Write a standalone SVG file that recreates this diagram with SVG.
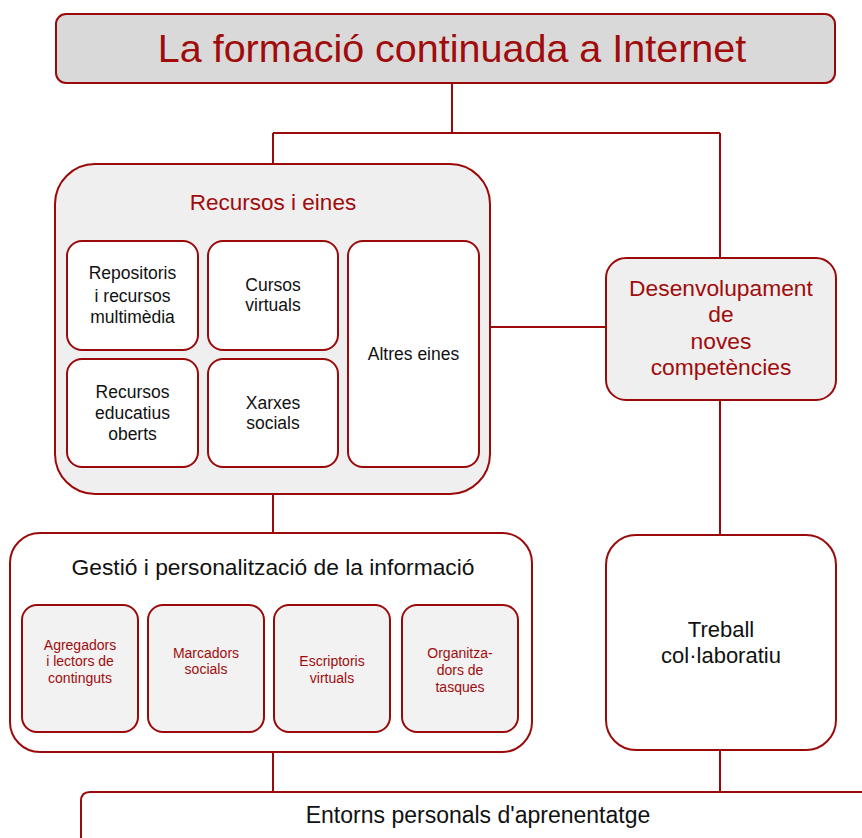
<svg xmlns="http://www.w3.org/2000/svg" width="862" height="838" viewBox="0 0 862 838">
<style>
.b{stroke:#9b0a0a;stroke-width:2;}
.ln{stroke:#9b0a0a;stroke-width:2;fill:none;}
text{font-family:"Liberation Sans",Arial,sans-serif;text-anchor:middle;}
.r{fill:#a00c0c;}
.k{fill:#111;}
</style>
<rect width="862" height="838" fill="#fff"/>
<g id="connectors">
<path class="ln" d="M452 83V133M273 133H720M273 133V164M720 133V258M490 327H606M720 400V535M273 494V533M273 752V792M720 750V792"/>
</g>
<g id="title">
<rect class="b" x="56" y="14" width="779" height="69" rx="10" fill="#d9d9d9"/>
<text class="r" x="452" y="62" font-size="39.5">La formació continuada a Internet</text>
</g>
<g id="recursos">
<rect class="b" x="55" y="164" width="435" height="330" rx="40" fill="#efefef"/>
<text class="r" x="273" y="210" font-size="22.5">Recursos i eines</text>
</g>
<g id="repositoris">
<rect class="b" x="67" y="241" width="131" height="109" rx="15" fill="#fff"/>
<text class="k" x="132.5" font-size="17.5"><tspan x="132.5" y="279">Repositoris</tspan><tspan x="132.5" y="302">i recursos</tspan><tspan x="132.5" y="323">multimèdia</tspan></text>
</g>
<g id="cursos">
<rect class="b" x="208" y="241" width="130" height="109" rx="15" fill="#fff"/>
<text class="k" font-size="17.5"><tspan x="273" y="291">Cursos</tspan><tspan x="273" y="311">virtuals</tspan></text>
</g>
<g id="altres">
<rect class="b" x="348" y="241" width="131" height="226" rx="15" fill="#fff"/>
<text class="k" x="413.5" y="360" font-size="17.5">Altres eines</text>
</g>
<g id="educatius">
<rect class="b" x="67" y="359" width="131" height="108" rx="15" fill="#fff"/>
<text class="k" font-size="17.5"><tspan x="132.5" y="398">Recursos</tspan><tspan x="132.5" y="419">educatius</tspan><tspan x="132.5" y="440">oberts</tspan></text>
</g>
<g id="xarxes">
<rect class="b" x="208" y="359" width="130" height="108" rx="15" fill="#fff"/>
<text class="k" font-size="17.5"><tspan x="273" y="409">Xarxes</tspan><tspan x="273" y="429">socials</tspan></text>
</g>
<g id="desenvolupament">
<rect class="b" x="606" y="258" width="230" height="142" rx="20" fill="#efefef"/>
<text class="r" font-size="22.8"><tspan x="721" y="296">Desenvolupament</tspan><tspan x="721" y="322">de</tspan><tspan x="721" y="349">noves</tspan><tspan x="721" y="375">competències</tspan></text>
</g>
<g id="treball">
<rect class="b" x="606" y="535" width="230" height="215" rx="30" fill="#fff"/>
<text class="k" font-size="22"><tspan x="721" y="637">Treball</tspan><tspan x="721" y="663">col·laboratiu</tspan></text>
</g>
<g id="gestio">
<rect class="b" x="10" y="533" width="522" height="219" rx="30" fill="#fff"/>
<text class="k" x="273" y="575" font-size="22.8">Gestió i personalització de la informació</text>
</g>
<g id="agregadors">
<rect class="b" x="22" y="605" width="116" height="127" rx="15" fill="#f2f2f2"/>
<text class="r" font-size="14"><tspan x="80" y="650">Agregadors</tspan><tspan x="80" y="666">i lectors de</tspan><tspan x="80" y="683">continguts</tspan></text>
</g>
<g id="marcadors">
<rect class="b" x="148" y="605" width="116" height="127" rx="15" fill="#f2f2f2"/>
<text class="r" font-size="14"><tspan x="206" y="658">Marcadors</tspan><tspan x="206" y="674">socials</tspan></text>
</g>
<g id="escriptoris">
<rect class="b" x="274" y="605" width="116" height="127" rx="15" fill="#f2f2f2"/>
<text class="r" font-size="14"><tspan x="332" y="666">Escriptoris</tspan><tspan x="332" y="683">virtuals</tspan></text>
</g>
<g id="organitzadors">
<rect class="b" x="402" y="605" width="116" height="127" rx="15" fill="#f2f2f2"/>
<text class="r" font-size="14"><tspan x="460" y="658">Organitza-</tspan><tspan x="460" y="675">dors de</tspan><tspan x="460" y="692">tasques</tspan></text>
</g>
<g id="entorns">
<path class="b" d="M81 842V801Q81 792 90 792H866" fill="#fff"/>
<text class="k" x="478" y="823" font-size="23">Entorns personals d'aprenentatge</text>
</g>
</svg>
